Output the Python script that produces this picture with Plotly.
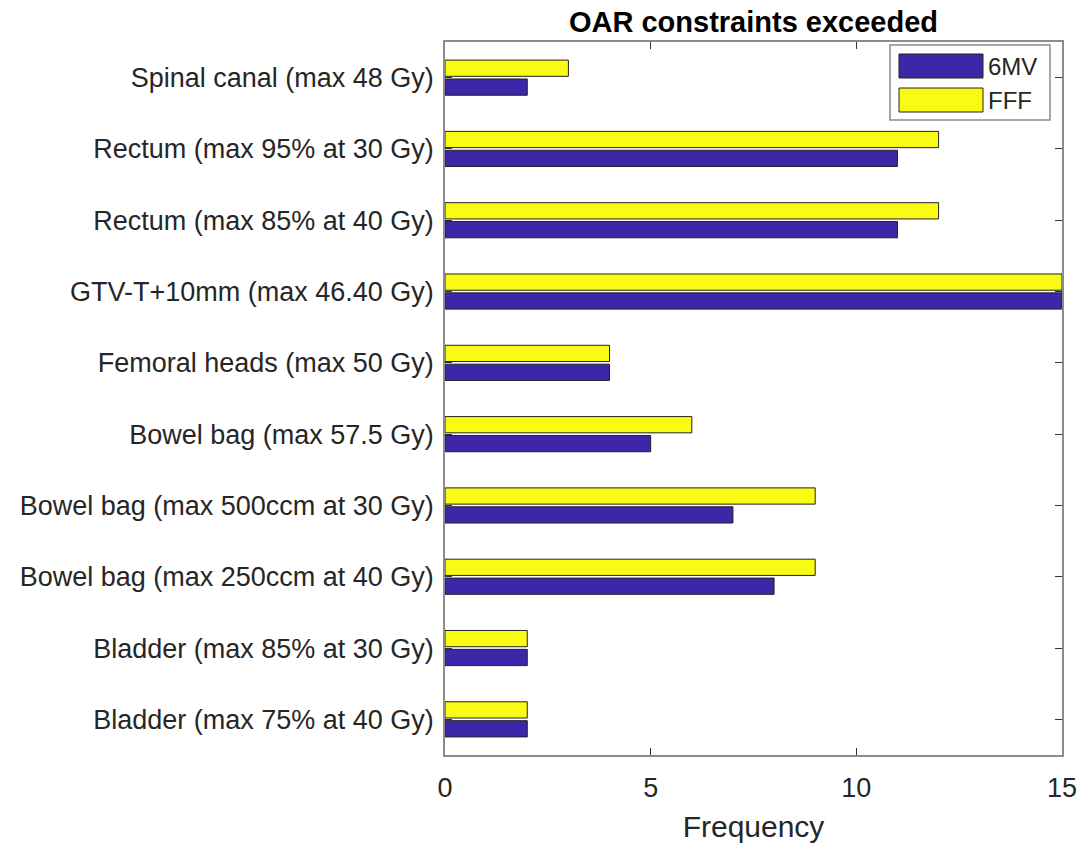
import plotly.graph_objects as go

categories = [
    "Bladder (max 75% at 40 Gy)",
    "Bladder (max 85% at 30 Gy)",
    "Bowel bag (max 250ccm at 40 Gy)",
    "Bowel bag (max 500ccm at 30 Gy)",
    "Bowel bag (max 57.5 Gy)",
    "Femoral heads (max 50 Gy)",
    "GTV-T+10mm (max 46.40 Gy)",
    "Rectum (max 85% at 40 Gy)",
    "Rectum (max 95% at 30 Gy)",
    "Spinal canal (max 48 Gy)",
]
values_6mv = [2, 2, 8, 7, 5, 4, 15, 11, 11, 2]
values_fff = [2, 2, 9, 9, 6, 4, 15, 12, 12, 3]
series_names = ["6MV", "FFF"]
x_ticks = [0, 5, 10, 15]

PURPLE = "#3E26A8"
YELLOW = "#F9FB15"
FONT = "Liberation Sans, Arial, sans-serif"

fig = go.Figure()
fig.add_trace(go.Bar(y=categories, x=values_6mv, orientation="h", name=series_names[0],
                     marker=dict(color=PURPLE, line=dict(color="#222222", width=1)),
                     showlegend=False))
fig.add_trace(go.Bar(y=categories, x=values_fff, orientation="h", name=series_names[1],
                     marker=dict(color=YELLOW, line=dict(color="#222222", width=1)),
                     showlegend=False))

L, R, T, B = 445, 1062, 42, 755
W, H = R - L, B - T

def px(x):
    return (x - L) / W

def py(y):
    return (B - y) / H

# custom legend (MATLAB style)
shapes = [
    dict(type="rect", xref="paper", yref="paper", x0=px(890), x1=px(1050), y0=py(120), y1=py(45),
         line=dict(color="#8c8c8c", width=1.5), fillcolor="white", layer="above"),
    dict(type="rect", xref="paper", yref="paper", x0=px(899), x1=px(983), y0=py(78), y1=py(54),
         line=dict(color="#222222", width=1), fillcolor=PURPLE, layer="above"),
    dict(type="rect", xref="paper", yref="paper", x0=px(899), x1=px(983), y0=py(112), y1=py(88),
         line=dict(color="#222222", width=1), fillcolor=YELLOW, layer="above"),
]
annotations = [
    dict(text=series_names[0], xref="paper", yref="paper", x=px(986), y=py(66), xanchor="left",
         yanchor="middle", showarrow=False, font=dict(family=FONT, size=24, color="#262626")),
    dict(text=series_names[1], xref="paper", yref="paper", x=px(986), y=py(100), xanchor="left",
         yanchor="middle", showarrow=False, font=dict(family=FONT, size=24, color="#262626")),
]

fig.update_layout(
    width=1080, height=843,
    margin=dict(l=L, r=1080 - R, t=T, b=843 - B, autoexpand=False),
    paper_bgcolor="white", plot_bgcolor="white",
    barmode="group", bargap=0.47, bargroupgap=0.14,
    font=dict(family=FONT, size=27, color="#262626"),
    title=dict(text="<b>OAR constraints exceeded</b>", x=(L + R) / 2 / 1080, xanchor="center",
               y=1 - 32 / 843, yanchor="bottom", yref="container",
               font=dict(family=FONT, size=29, color="black")),
    xaxis=dict(range=[0, 15], tickvals=x_ticks, ticktext=[str(v) for v in x_ticks],
               ticks="inside", ticklen=7, tickcolor="#333333", tickwidth=1,
               showline=True, linecolor="#8c8c8c", linewidth=1.5, mirror="ticks",
               showgrid=False, zeroline=False, ticklabelstandoff=8, automargin=False,
               tickfont=dict(size=27, color="#262626"),
               title=dict(text="Frequency", font=dict(size=30, color="#262626"), standoff=14)),
    yaxis=dict(range=[-0.5, 9.5], type="category", categoryorder="array", categoryarray=categories,
               ticks="inside", ticklen=7, tickcolor="#333333", tickwidth=1,
               showline=True, linecolor="#8c8c8c", linewidth=1.5, mirror="ticks",
               showgrid=False, zeroline=False, ticklabelstandoff=4, automargin=False,
               tickfont=dict(size=27, color="#262626")),
    shapes=shapes, annotations=annotations,
)

fig.write_html("out.html")
